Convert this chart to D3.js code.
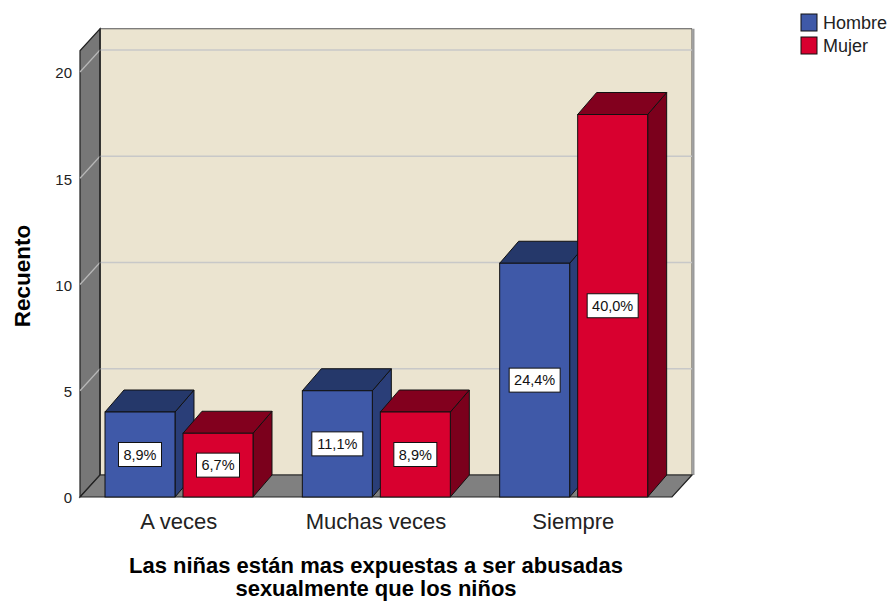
<!DOCTYPE html>
<html>
<head>
<meta charset="utf-8">
<script src="https://cdn.jsdelivr.net/npm/d3@7"></script>
<style>
body{margin:0;background:#fff;}
svg{display:block;}
text{font-family:"Liberation Sans",Arial,sans-serif;}
</style>
</head>
<body>
<svg id="chart" width="889" height="601"></svg>
<script>
const categories = ["A veces", "Muchas veces", "Siempre"];
const seriesNames = ["Hombre", "Mujer"];
const hombre = [4, 5, 11];
const mujer = [3, 4, 18];
const hombrePct = ["8,9%", "11,1%", "24,4%"];
const mujerPct = ["6,7%", "8,9%", "40,0%"];
const yTicks = [0, 5, 10, 15, 20];
const xTitleLines = ["Las niñas están mas expuestas a ser abusadas", "sexualmente que los niños"];
const yTitle = "Recuento";

const colors = {
  Hombre: {front: "#3f59a8", top: "#25386a", side: "#2a3e78"},
  Mujer: {front: "#d8002f", top: "#82001e", side: "#7b001c"}
};

const svg = d3.select("#chart");
const left = 80, right = 672, bottom = 497;
const DX = 20, DY = 22;      // wall depth
const BDX = 19, BDY = 22;    // bar depth

const y = d3.scaleLinear().domain([0, 21]).range([bottom, bottom - 21 * 21.25]);
const x = d3.scaleBand().domain(categories).range([left, right]).padding(0);
const xs = d3.scaleBand().domain(seriesNames).range([25, 173]).paddingInner(0.1026).paddingOuter(0);

const yTop = y(21);
const line = d3.line();

// back wall
svg.append("path")
  .attr("d", line([[left + DX, yTop - DY], [right + DX, yTop - DY], [right + DX, bottom - DY], [left + DX, bottom - DY]]) + "Z")
  .attr("fill", "#ebe4d0").attr("stroke", "#555").attr("stroke-width", 1);
svg.append("line")
  .attr("x1", right + DX + 1.5).attr("x2", right + DX + 1.5)
  .attr("y1", yTop - DY).attr("y2", bottom - DY)
  .attr("stroke", "#9a9a9a").attr("stroke-width", 2);

// left wall
svg.append("path")
  .attr("d", line([[left, yTop], [left + DX, yTop - DY], [left + DX, bottom - DY], [left, bottom]]) + "Z")
  .attr("fill", "#777777").attr("stroke", "#222").attr("stroke-width", 1.2);

// floor
svg.append("path")
  .attr("d", line([[left, bottom], [left + DX, bottom - DY], [right + DX, bottom - DY], [right, bottom]]) + "Z")
  .attr("fill", "#808080").attr("stroke", "#222").attr("stroke-width", 1.2);

// gridlines
const grid = svg.append("g");
yTicks.filter(d => d > 0).forEach(t => {
  grid.append("line")
    .attr("x1", left + DX).attr("x2", right + DX)
    .attr("y1", y(t) - DY).attr("y2", y(t) - DY)
    .attr("stroke", "#c8c8c8").attr("stroke-width", 1.5);
  grid.append("line")
    .attr("x1", left).attr("x2", left + DX)
    .attr("y1", y(t)).attr("y2", y(t) - DY)
    .attr("stroke", "#b8b8b8").attr("stroke-width", 1.2);
});
svg.append("line")
  .attr("x1", left + DX).attr("x2", left + DX)
  .attr("y1", yTop - DY).attr("y2", bottom - DY)
  .attr("stroke", "#222").attr("stroke-width", 1.2);

// y tick labels
svg.append("g").selectAll("text").data(yTicks).join("text")
  .attr("x", 72).attr("y", d => y(d) + 1).attr("dy", "0.35em")
  .attr("text-anchor", "end").attr("font-size", 15).attr("fill", "#222")
  .text(d => d);

// bars
const data = [];
categories.forEach((c, i) => {
  data.push({cat: c, s: "Hombre", v: hombre[i], pct: hombrePct[i]});
  data.push({cat: c, s: "Mujer", v: mujer[i], pct: mujerPct[i]});
});
const bars = svg.append("g");
data.forEach(d => {
  const x0 = x(d.cat) + xs(d.s), x1 = x0 + xs.bandwidth();
  const yt = y(d.v), yb = y(0);
  const col = colors[d.s];
  const g = bars.append("g");
  g.append("path")
    .attr("d", line([[x1, yt], [x1 + BDX, yt - BDY], [x1 + BDX, yb - BDY], [x1, yb]]) + "Z")
    .attr("fill", col.side).attr("stroke", "#111").attr("stroke-width", 1);
  g.append("path")
    .attr("d", line([[x0, yt], [x0 + BDX, yt - BDY], [x1 + BDX, yt - BDY], [x1, yt]]) + "Z")
    .attr("fill", col.top).attr("stroke", "#111").attr("stroke-width", 1);
  g.append("rect")
    .attr("x", x0).attr("y", yt).attr("width", x1 - x0).attr("height", yb - yt)
    .attr("fill", col.front).attr("stroke", "#111").attr("stroke-width", 1);
  const cx = (x0 + x1) / 2, cy = (yt + yb) / 2;
  const w = d.pct.length > 4 ? 51 : 43;
  g.append("rect")
    .attr("x", cx - w / 2).attr("y", cy - 12).attr("width", w).attr("height", 24)
    .attr("fill", "#fff").attr("stroke", "#111").attr("stroke-width", 1);
  g.append("text")
    .attr("x", cx).attr("y", cy).attr("dy", "0.36em")
    .attr("text-anchor", "middle").attr("font-size", 14.5).attr("fill", "#111")
    .text(d.pct);
});

// x tick labels
svg.append("g").selectAll("text").data(categories).join("text")
  .attr("x", d => x(d) + x.bandwidth() / 2).attr("y", 521).attr("dy", "0.35em")
  .attr("text-anchor", "middle").attr("font-size", 22).attr("fill", "#222")
  .text(d => d);

// x title
svg.append("g").selectAll("text").data(xTitleLines).join("text")
  .attr("x", 376).attr("y", (d, i) => 565 + i * 23).attr("dy", "0.35em")
  .attr("text-anchor", "middle").attr("font-size", 22).attr("font-weight", "bold").attr("fill", "#000")
  .text(d => d);

// y title
svg.append("text")
  .attr("transform", "translate(22,276) rotate(-90)")
  .attr("dy", "0.35em")
  .attr("text-anchor", "middle").attr("font-size", 22.5).attr("font-weight", "bold").attr("fill", "#000")
  .text(yTitle);

// legend
const lg = svg.append("g").attr("transform", "translate(801,14)");
seriesNames.forEach((s, i) => {
  lg.append("rect").attr("x", 0).attr("y", i * 23).attr("width", 16).attr("height", 17)
    .attr("fill", colors[s].front).attr("stroke", "#111").attr("stroke-width", 1);
  lg.append("text").attr("x", 22).attr("y", i * 23 + 9).attr("dy", "0.35em")
    .attr("font-size", 18).attr("fill", "#222").text(s);
});
</script>
</body>
</html>
